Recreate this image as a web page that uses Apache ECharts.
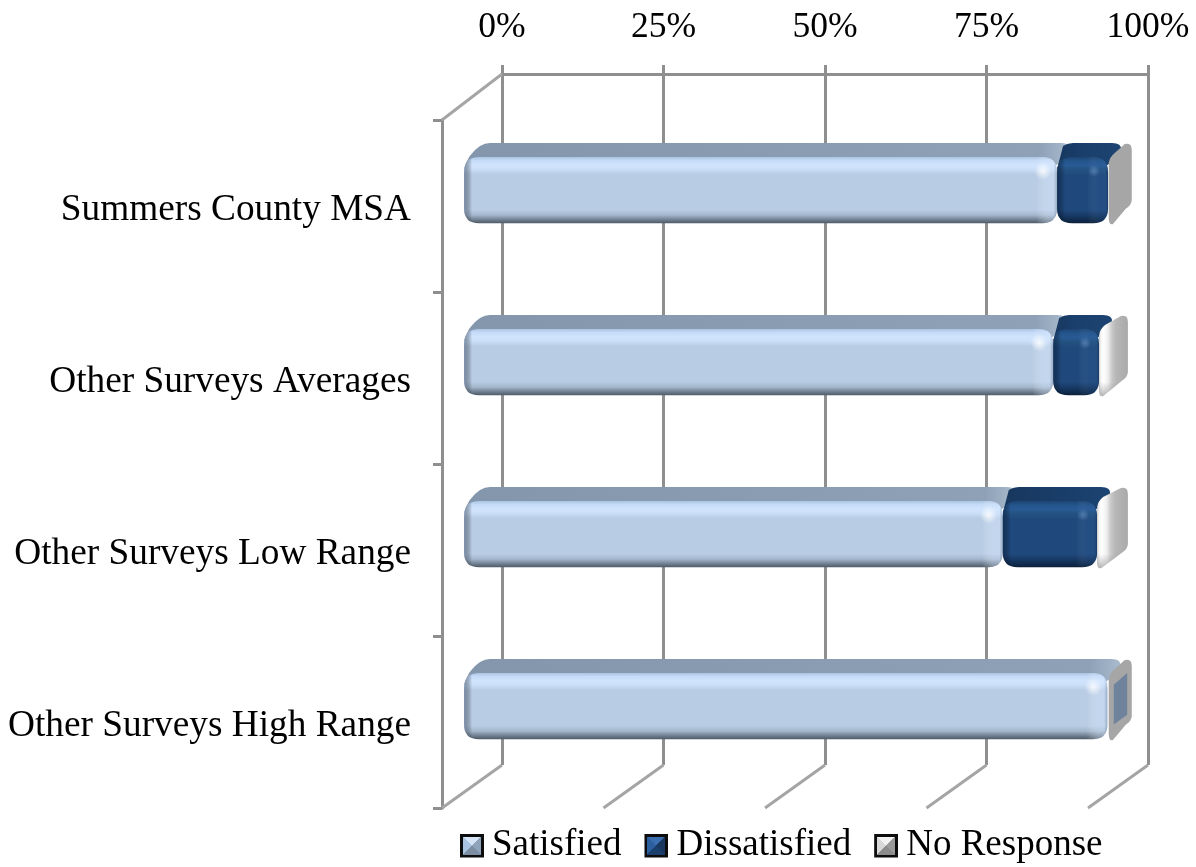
<!DOCTYPE html>
<html><head><meta charset="utf-8">
<style>html,body{margin:0;padding:0;background:#fff}#c{width:1196px;height:867px}</style>
<script src="https://cdn.jsdelivr.net/npm/echarts@6/dist/echarts.min.js"></script>
</head><body><div id="c"></div>
<script>
const categories = ['Summers County MSA','Other Surveys Averages','Other Surveys Low Range','Other Surveys High Range'];
const seriesNames = ['Satisfied','Dissatisfied','No Response'];
const satisfied = [91.8, 91.2, 83.4, 99.6];
const dissatisfied = [7.9, 7.1, 14.6, 0.1];
const noResponse = [0.1, 0.9, 1.2, 0.1];
const axisTicks = [0, 25, 50, 75, 100];
const FONT = '"Liberation Serif","Times New Roman",serif';
const GRID = '#8f8f8f';

const icon = (a,b,c,d) => 'image://data:image/svg+xml;charset=utf-8,' + encodeURIComponent(
 `<svg xmlns="http://www.w3.org/2000/svg" width="24" height="24" shape-rendering="crispEdges"><rect width="24" height="24" fill="#0d0d0d"/><rect x="3" y="3" width="18" height="18" fill="${d}"/><polygon points="3,3 12,12 3,21" fill="${b}"/><polygon points="3,3 21,3 12,12" fill="${a}"/><polygon points="21,3 12,12 21,21" fill="${c}"/></svg>`);

const looks = [
 {faceStops:[[0,'#a9c3e3'],[.05,'#c4daf6'],[.12,'#d0e4fd'],[.18,'#cbdff8'],[.26,'#b8cce4'],[.8,'#b8cce4'],[.88,'#a3b5cb'],[.95,'#6f7d8f'],[1,'#4e5a68']],
  top:['#8496ac','#8fa1b7'], topEnd:'#a9bbce', left:'rgba(95,115,140,.65)', right:'rgba(215,232,255,.35)', edge:'rgba(70,90,115,.25)', glow:'rgba(255,255,255,.8)', glowR:9, startIn:26},
 {faceStops:[[0,'#1d4472'],[.06,'#24548c'],[.13,'#285a94'],[.2,'#23517f'],[.28,'#1f497d'],[.8,'#1f497d'],[.88,'#183a66'],[.95,'#102c4e'],[1,'#0c2039']],
  top:['#17375e','#1a3f6c'], topEnd:'#1d4472', left:'rgba(10,30,60,.55)', right:'rgba(70,120,180,.12)', edge:'rgba(10,25,50,.35)', glow:'rgba(110,150,205,.55)', glowR:6, startIn:16}
];

function geometry(api){
 const cat = api.value(0), s = api.value(1), e = api.value(2);
 const band = api.size([0,1])[1];
 const a = api.coord([s,cat]), b = api.coord([e,cat]);
 const inset = band*0.128;
 return {x0:a[0]+inset, x1:b[0]+inset, yc:a[1], yT:a[1]-band*0.285, yB:a[1]+band*0.1, dx:band*0.134, dy:band*0.081};
}
function roundRect(x0,y0,x1,y1,r){
 r=Math.min(r,(x1-x0)/2,(y1-y0)/2);
 return `M${x0+r} ${y0}L${x1-r} ${y0}Q${x1} ${y0} ${x1} ${y0+r}L${x1} ${y1-r}Q${x1} ${y1} ${x1-r} ${y1}L${x0+r} ${y1}Q${x0} ${y1} ${x0} ${y1-r}L${x0} ${y0+r}Q${x0} ${y0} ${x0+r} ${y0}Z`;
}
function el(d,fill){
 return {type:'path',shape:{pathData:d},style:{fill}};
}
function solidBar(idx){
 return function(params,api){
  const g = geometry(api), L = looks[idx];
  const w = g.x1-g.x0;
  if (w < 1) return {type:'group',children:[]};
  const top = g.yT-g.dy, endX = g.x1+g.dy;
  const sx = g.x0+L.startIn;
  const topPath = `M${g.x0} ${g.yT+12}Q${g.x0+4} ${g.yT-3} ${sx-10} ${top+3}Q${sx-5} ${top} ${sx} ${top}L${endX-10} ${top}Q${endX} ${top} ${endX-1} ${top+7}Q${endX-4} ${g.yT+3} ${g.x1-4} ${g.yT+10}L${g.x0} ${g.yT+12}Z`;
  const fr = roundRect(g.x0,g.yT,g.x1,g.yB,15);
  const e = 16/w;
  return {type:'group',children:[
   el(topPath,{type:'linear',x:0,y:0,x2:1,y2:0,colorStops:[
     {offset:0,color:L.top[0]},{offset:Math.max(0,1-30/w),color:L.top[1]},{offset:1,color:L.topEnd}]}),
   el(fr,{type:'linear',x:0,y:0,x2:0,y2:1,colorStops:L.faceStops.map(s=>({offset:s[0],color:s[1]}))}),
   el(fr,{type:'linear',x:0,y:0,x2:1,y2:0,colorStops:[
     {offset:0,color:L.left},{offset:e*0.5,color:'rgba(0,0,0,0)'},{offset:1-e*1.3,color:'rgba(255,255,255,0)'},
     {offset:1-e*0.6,color:L.right},{offset:1-e*0.2,color:L.right},{offset:1,color:L.edge}]}),
   {type:'circle',shape:{cx:g.x1-14,cy:g.yT+14,r:L.glowR},style:{fill:{type:'radial',x:.5,y:.5,r:.5,colorStops:[
     {offset:0,color:L.glow},{offset:1,color:L.glow.replace(/[\d.]+\)$/,'0)')}]}}}
  ]};
 };
}
function renderNoResponse(params,api){
 const g = geometry(api), cat = api.value(0);
 const w = g.x1-g.x0;
 const xR = g.x1+g.dx, yBk = g.yB-g.dy*1.25, yTk = g.yT-g.dy;
 const sideX = w<2 ? g.x1 : g.x0;
 const side = `M${sideX} ${g.yT+6}Q${sideX+1} ${g.yT} ${sideX+6} ${g.yT-4}L${xR-7} ${yTk+1}Q${xR} ${yTk-1} ${xR} ${yTk+7}L${xR} ${yBk-6}Q${xR} ${yBk-1} ${xR-6} ${yBk+3}L${sideX+4} ${g.yB+1}Q${sideX} ${g.yB+2} ${sideX} ${g.yB-6}Z`;
 const fill = w<2 ? '#a6a6a6' : {type:'linear',x:0,y:0,x2:1,y2:0,colorStops:[
   {offset:0,color:'#c8c8c8'},{offset:.06,color:'#f5f5f5'},{offset:.15,color:'#ffffff'},{offset:.3,color:'#f0f0f0'},{offset:.45,color:'#c8c8c8'},{offset:.6,color:'#b6b6b6'},{offset:1,color:'#aaaaaa'}]};
 const kids = [el(side,fill)];
 if (w>=2) kids.push(el(side,{type:'linear',x:0,y:0,x2:0,y2:1,colorStops:[
   {offset:0,color:'rgba(150,150,150,0)'},{offset:.82,color:'rgba(150,150,150,0)'},{offset:1,color:'rgba(130,130,130,.6)'}]}));
 if (dissatisfied[cat] < 1) {
  const ax=g.x1+g.dx*.22, bx=g.x1+g.dx*.8;
  const inner=`M${ax} ${g.yT+g.dy*.85}L${bx} ${g.yT}L${bx} ${g.yB-g.dy*1.75}L${ax} ${g.yB-g.dy*1.05}Z`;
  kids.push(el(inner,'#70839c'));
 }
 return {type:'group',children:kids};
}
function renderFloor(params,api){
 const v = api.value(0), band = api.size([0,1])[1];
 const dx = band*0.349, dy = band*0.25;
 const q = api.coord([v,0]), p = api.coord([v,categories.length-1]);
 const yBottom = p[1]+band/2, yTop = q[1]-band/2;
 const kids=[{type:'line',shape:{x1:p[0],y1:yBottom,x2:p[0]+dx,y2:yBottom-dy},style:{stroke:'#a5a5a5',lineWidth:3}}];
 if(v===0) kids.push({type:'line',shape:{x1:q[0],y1:yTop,x2:q[0]+dx,y2:yTop-dy-3},style:{stroke:'#a5a5a5',lineWidth:3}});
 return {type:'group',children:kids};
}
const starts1 = satisfied.map(()=>0);
const row = (a,b)=>a.map((_,i)=>[i,b[i],b[i]+a[i]]);
const ends1 = satisfied.slice();
const ends2 = satisfied.map((v,i)=>v+dissatisfied[i]);

const chart = echarts.init(document.getElementById('c'),null,{renderer:'canvas'});
chart.setOption({
 animation:false,
 textStyle:{fontFamily:FONT},
 legend:{left:460,top:827,padding:0,itemWidth:24,itemHeight:24,itemGap:23,selectedMode:false,
  textStyle:{fontFamily:FONT,fontSize:37,color:'#000',padding:[0,0,0,3]},
  data:[
   {name:seriesNames[0],icon:icon('#d5e4f6','#a9c3e3','#8fa3bb','#7d8ea3')},
   {name:seriesNames[1],icon:icon('#3a6eb0','#2c5f9e','#17375e','#1a3f6c')},
   {name:seriesNames[2],icon:icon('#f2f2f2','#d8d8d8','#9a9a9a','#8c8c8c')}]},
 grid:[
  {left:502,width:646,top:74,height:691},
  {left:442,width:646,top:120,height:688}
 ],
 xAxis:[
  {gridIndex:0,type:'value',position:'top',min:0,max:100,interval:25,
   axisLine:{show:true,lineStyle:{color:GRID,width:3}},
   axisTick:{show:true,length:9,lineStyle:{color:GRID,width:3}},
   splitLine:{show:true,lineStyle:{color:GRID,width:3}},
   axisLabel:{formatter:'{value}%',fontFamily:FONT,fontSize:35.5,color:'#000',margin:28}},
  {gridIndex:1,type:'value',min:0,max:100,interval:25,show:false}
 ],
 yAxis:[
  {gridIndex:0,type:'category',inverse:true,data:categories,show:false},
  {gridIndex:1,type:'category',inverse:true,data:categories,
   axisLine:{show:true,lineStyle:{color:GRID,width:3}},
   axisTick:{show:true,length:9,lineStyle:{color:GRID,width:3}},
   axisLabel:{margin:31,formatter:'{a|{value}}',
     rich:{a:{fontFamily:FONT,fontSize:37.3,color:'#000',padding:[9,0,0,0]}}}}
 ],
 series:[
  {type:'custom',coordinateSystem:'cartesian2d',xAxisIndex:1,yAxisIndex:1,silent:true,z:1,clip:false,
   data:axisTicks.map(v=>[v]),encode:{x:0},renderItem:renderFloor},
  {name:seriesNames[0],type:'custom',coordinateSystem:'cartesian2d',xAxisIndex:1,yAxisIndex:1,z:2,clip:false,
   data:row(satisfied,starts1),encode:{y:0,x:[1,2]},renderItem:solidBar(0)},
  {name:seriesNames[2],type:'custom',coordinateSystem:'cartesian2d',xAxisIndex:1,yAxisIndex:1,z:3,clip:false,
   data:row(noResponse,ends2),encode:{y:0,x:[1,2]},renderItem:renderNoResponse},
  {name:seriesNames[1],type:'custom',coordinateSystem:'cartesian2d',xAxisIndex:1,yAxisIndex:1,z:2,clip:false,
   data:row(dissatisfied,ends1),encode:{y:0,x:[1,2]},renderItem:solidBar(1)}
 ]
});
</script></body></html>
